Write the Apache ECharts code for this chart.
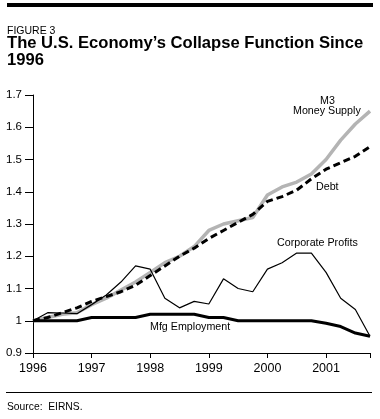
<!DOCTYPE html>
<html>
<head>
<meta charset="utf-8">
<script src="https://cdn.jsdelivr.net/npm/echarts@6/dist/echarts.min.js"></script>
<style>
html,body{margin:0;padding:0;background:#fff;}
#chart{width:380px;height:419px;}
</style>
</head>
<body>
<div id="chart"></div>
<script>
// Quarterly categories 1996 Q1 .. 2001 Q4
const categories = [
  '1996 Q1','1996 Q2','1996 Q3','1996 Q4',
  '1997 Q1','1997 Q2','1997 Q3','1997 Q4',
  '1998 Q1','1998 Q2','1998 Q3','1998 Q4',
  '1999 Q1','1999 Q2','1999 Q3','1999 Q4',
  '2000 Q1','2000 Q2','2000 Q3','2000 Q4',
  '2001 Q1','2001 Q2','2001 Q3','2001 Q4'
];
const m3MoneySupply = [1.00,1.01,1.02,1.025,1.05,1.07,1.095,1.12,1.15,1.18,1.20,1.23,1.28,1.30,1.31,1.32,1.39,1.415,1.43,1.455,1.50,1.56,1.61,1.65];
const debt = [1.00,1.01,1.025,1.04,1.06,1.075,1.09,1.11,1.14,1.17,1.20,1.225,1.255,1.28,1.305,1.33,1.37,1.385,1.405,1.44,1.47,1.49,1.51,1.54];
const corporateProfits = [1.00,1.025,1.024,1.022,1.05,1.08,1.12,1.17,1.16,1.07,1.04,1.06,1.052,1.13,1.10,1.09,1.16,1.18,1.21,1.21,1.15,1.07,1.035,0.952];
const mfgEmployment = [1.00,1.00,1.00,1.00,1.01,1.01,1.01,1.01,1.02,1.02,1.02,1.02,1.01,1.01,1.00,1.00,1.00,1.00,1.00,1.00,0.992,0.982,0.962,0.952];
const yTicks = {min: 0.9, max: 1.7, interval: 0.1};

const FONT = '"Liberation Sans", Arial, sans-serif';
const chart = echarts.init(document.getElementById('chart'), null, {renderer: 'canvas'});

chart.setOption({
  animation: false,
  backgroundColor: '#fff',
  grid: {left: 33, right: 10, top: 95, bottom: 66, containLabel: false},
  xAxis: {
    type: 'category',
    data: categories,
    boundaryGap: false,
    axisLine: {lineStyle: {color: '#000', width: 1}},
    axisTick: {
      length: 5, lineStyle: {color: '#000'},
      interval: (i) => i % 4 === 0 || i === categories.length - 1
    },
    axisLabel: {
      interval: (i) => i % 4 === 0,
      formatter: (v) => v.slice(0, 4),
      color: '#000', fontFamily: FONT, fontSize: 12.5, margin: 9
    },
    splitLine: {show: false}
  },
  yAxis: {
    type: 'value',
    min: yTicks.min, max: yTicks.max, interval: yTicks.interval,
    axisLine: {show: true, lineStyle: {color: '#000', width: 1}},
    axisTick: {show: true, length: 8, lineStyle: {color: '#000'}},
    axisLabel: {
      formatter: (v) => String(Math.round(v * 10) / 10),
      color: '#000', fontFamily: FONT, fontSize: 11.5, margin: 11
    },
    splitLine: {show: false}
  },
  series: [
    {name: 'M3 Money Supply', type: 'line', data: m3MoneySupply, symbol: 'none',
      lineStyle: {color: '#b4b4b4', width: 3.5}, z: 2},
    {name: 'Debt', type: 'line', data: debt, symbol: 'none',
      lineStyle: {color: '#000', width: 3, type: [7, 4]}, z: 3},
    {name: 'Corporate Profits', type: 'line', data: corporateProfits, symbol: 'none',
      lineStyle: {color: '#000', width: 1.2}, z: 4},
    {name: 'Mfg Employment', type: 'line', data: mfgEmployment, symbol: 'none',
      lineStyle: {color: '#000', width: 3}, z: 5}
  ],
  graphic: [
    {type: 'rect', shape: {x: 7, y: 3, width: 366, height: 4}, style: {fill: '#000'}},
    {type: 'text', left: 7, top: 26, style: {text: 'FIGURE 3', font: '10.5px ' + FONT, fill: '#000'}},
    {type: 'text', left: 7, top: 35, style: {text: 'The U.S. Economy\u2019s Collapse Function Since\n1996', font: 'bold 16.6px ' + FONT, fill: '#000', lineHeight: 16.5}},
    {type: 'text', left: 320, top: 96, style: {text: 'M3', font: '10.7px ' + FONT, fill: '#000'}},
    {type: 'text', left: 293, top: 106, style: {text: 'Money Supply', font: '10.7px ' + FONT, fill: '#000'}},
    {type: 'text', left: 316, top: 182, style: {text: 'Debt', font: '10.7px ' + FONT, fill: '#000'}},
    {type: 'text', left: 277, top: 238, style: {text: 'Corporate Profits', font: '10.7px ' + FONT, fill: '#000'}},
    {type: 'text', left: 150, top: 322, style: {text: 'Mfg Employment', font: '10.7px ' + FONT, fill: '#000'}},
    {type: 'rect', shape: {x: 6, y: 392, width: 366, height: 1}, style: {fill: '#000'}},
    {type: 'text', left: 7, top: 402, style: {text: 'Source:  EIRNS.', font: '10.3px ' + FONT, fill: '#000'}}
  ]
});
</script>
</body>
</html>
